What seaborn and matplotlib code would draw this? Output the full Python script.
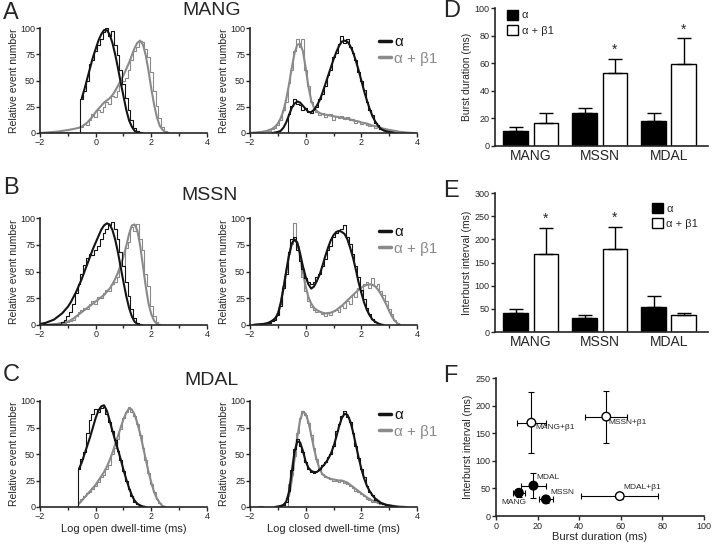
import numpy as np
import pandas as pd
import seaborn as sns
import matplotlib
matplotlib.use("Agg")
import matplotlib.pyplot as plt
from matplotlib.lines import Line2D
from matplotlib.ticker import MultipleLocator

# Setup
sns.set_style("ticks")
plt.rcParams['font.family'] = ['Liberation Sans', 'DejaVu Sans']

BLACK = '#141414'
GREY = '#8a8a8a'
STEP = 0.1  # log-unit bin width of the dwell-time histograms

# ---- dwell-time histograms: (start x, values every 0.1 log unit) ----
# A  MANG open
mang_open_a_fit = (-0.5, [33, 42, 52, 62, 72, 80, 88, 94, 98, 98, 94, 86, 75, 62, 48, 35, 22, 12, 6, 2, 0.5, 0])
mang_open_a_hist = (-0.6, [0, 32, 40, 50, 66, 70, 78, 84, 90, 96, 100, 92, 97, 84, 74, 60, 47, 33, 22, 12, 5, 2, 0.5, 0])
mang_open_b_fit = (-2.0, [0, 0.2, 0.4, 0.6, 0.8, 1, 1.3, 1.6, 2, 2.4, 2.8, 3.3, 3.8, 4.4, 5,
                          6, 8, 10, 13, 16, 20, 23, 26, 29, 31,
                          33, 36, 40, 45, 50, 55, 61, 67, 74, 81, 86, 88, 84, 74, 59, 42, 27, 15, 7, 3, 1, 0])
mang_open_b_hist = (-1.9, [0.5, 0.5, 0.5, 0.5, 0.5, 0.5, 0.5, 0.5, 0.5, 0.5, 0.5, 0.5, 0.5, 0, 6, 9, 8, 12, 18, 15,
                           22, 20, 25, 30, 28, 35, 34, 40, 46, 50, 52, 60, 70, 78, 82, 88, 87, 80, 72, 58,
                           40, 26, 14, 6, 2, 0.5, 0])
# A  MANG closed
mang_closed_a_fit = (-1.2, [0, 0.5, 1, 2, 5, 10, 17, 24, 28, 30, 29, 26, 23, 20, 20, 22, 26, 31, 38, 46, 54, 62,
                            70, 77, 83, 87, 88, 87, 83, 77, 69, 60, 50, 40, 31, 23, 16, 11, 7, 4, 2.5, 1.5, 1, 0.5, 0])
mang_closed_a_hist = (-0.7, [0, 18, 26, 32, 28, 27, 22, 24, 20, 19, 23, 25, 32, 37, 45, 55, 60, 72, 76, 85, 92, 86,
                             90, 82, 76, 70, 58, 50, 41, 30, 22, 17, 10, 8, 4, 3, 1.5, 1, 0.5, 0])
mang_closed_b_fit = (-2.0, [0, 0.3, 0.5, 0.8, 1, 1.5, 2, 3, 4, 6, 9, 14, 21, 32, 46, 62, 76, 84, 85, 78, 62, 44,
                            31, 24, 21, 19, 18, 17.5, 17, 16.5, 16, 15.5, 15, 14.5, 14, 13.5, 13, 12, 11.5, 11, 10,
                            9.5, 9, 8, 7, 6.5, 6, 5, 4, 3.5, 3, 2.5, 2, 1.5, 1, 0.8, 0.5, 0.3, 0.1, 0])
mang_closed_b_hist = (-1.8, [0.5, 1, 1, 1.5, 2, 2, 4, 5, 8, 12, 22, 30, 48, 60, 78, 90, 82, 90, 60, 45, 30, 25,
                             20, 17, 19, 15, 17, 18, 12, 16, 14, 16, 13, 15, 12, 13, 10, 11, 9, 10, 8, 7, 8, 5,
                             6, 4, 5, 3, 3, 2, 2.5, 1, 1.5, 0.5, 1, 0.3, 0])
# B  MSSN open
mssn_open_a_fit = (-2.0, [1, 1.5, 2, 3, 4, 5, 7, 9, 11, 14, 17, 21, 26, 31, 37, 43, 50, 57, 64, 71, 77, 83,
                          89, 93, 95, 94, 89, 80, 68, 54, 40, 27, 16, 8, 3, 1, 0])
mssn_open_a_hist = (-1.9, [0.5, 0.5, 0.5, 1, 1, 1, 1, 3, 5, 8, 12, 20, 30, 38, 48, 56, 63, 66, 65, 70, 74, 80,
                           86, 90, 93, 96, 90, 80, 68, 55, 40, 27, 15, 7, 2, 0.5, 0])
mssn_open_b_fit = (-1.8, [0, 0.3, 0.5, 0.8, 1, 1.5, 2, 2.5, 3, 4.5, 6, 8, 10, 12, 14, 16, 18, 20, 22, 24, 26,
                          28, 31, 34, 38, 43, 49, 56, 64, 74, 85, 93, 94, 88, 74, 55, 36, 20, 10, 4, 1, 0])
mssn_open_b_hist = (-1.8, [0, 0.3, 0.5, 1, 1, 1.5, 2, 2, 3, 4, 5, 8, 12, 14, 16, 15, 20, 22, 20, 26, 25, 30,
                           33, 32, 38, 40, 45, 58, 55, 72, 78, 92, 88, 94, 80, 70, 48, 36, 18, 8, 3, 1, 0])
# B  MSSN closed
mssn_closed_a_fit = (-1.9, [0, 0.3, 0.5, 0.8, 1, 1.5, 2.5, 4, 6, 10, 20, 34, 50, 65, 76, 80, 77, 67, 55, 45,
                            38, 34, 36, 41, 47, 55, 64, 72, 79, 84, 87, 88, 87, 85, 80, 72, 63, 52, 40, 30, 21,
                            14, 9, 5, 3, 1.5, 0.5, 0])
mssn_closed_a_hist = (-1.8, [0.5, 0.5, 1, 1, 2, 2, 4, 5, 9, 18, 35, 48, 68, 80, 82, 70, 60, 52, 44, 40, 38, 40,
                             45, 48, 55, 62, 70, 74, 82, 86, 88, 90, 93, 82, 76, 66, 55, 45, 33, 24, 16, 10, 6,
                             3, 1.5, 0.5, 0])
mssn_closed_b_fit = (-1.9, [0, 0.3, 0.5, 0.8, 1, 1.5, 2.5, 4, 6, 10, 20, 34, 50, 65, 76, 80, 76, 64, 49, 36, 26,
                            20, 16, 14, 12.5, 11.5, 11, 11, 11.5, 12.5, 14, 16, 18, 20.5, 23, 25.5, 28, 30.5, 33,
                            35, 36.5, 37.5, 38, 37.5, 36, 33, 29, 24, 19, 13, 8, 4, 1.5, 0])
mssn_closed_b_hist = (-1.8, [0.5, 1, 1, 2, 2, 3, 4, 6, 11, 20, 36, 50, 66, 76, 95, 74, 60, 45, 32, 22, 17, 14,
                             12, 13, 10, 8, 12, 9, 13, 14, 12, 18, 16, 22, 20, 28, 26, 35, 32, 38, 40, 35, 44,
                             36, 38, 32, 28, 22, 15, 10, 5, 2, 0])
# C  MDAL open
mdal_open_a_fit = (-0.6, [36, 42, 50, 58, 66, 75, 84, 91, 95, 96, 91, 82, 72, 63, 54, 45, 35, 26, 18, 11, 6, 3,
                          1.5, 0.5, 0])
mdal_open_a_hist = (-0.7, [0, 36, 45, 52, 70, 82, 88, 92, 90, 93, 94, 88, 80, 72, 63, 53, 44, 34, 25, 17, 10, 5,
                           3, 1, 0.5, 0])
mdal_open_b_fit = (-0.6, [3, 6, 9, 12, 15, 18, 21, 25, 29, 33, 38, 44, 51, 59, 67, 75, 83, 89, 93, 92, 87, 79,
                          69, 57, 45, 33, 23, 14, 8, 4, 1, 0])
mdal_open_b_hist = (-0.6, [5, 8, 10, 13, 14, 17, 20, 24, 28, 30, 36, 40, 50, 56, 64, 74, 84, 90, 94, 90, 86, 78,
                           68, 56, 44, 32, 22, 14, 8, 4, 1, 0])
# C  MDAL closed
mdal_closed_a_fit = (-1.1, [0, 0.5, 1, 2, 5, 14, 33, 52, 62, 61, 53, 43, 37, 34, 33, 33, 35, 38, 41, 45, 50, 57,
                            66, 76, 84, 88, 87, 81, 71, 59, 47, 36, 27, 20, 15, 11, 8, 6, 4, 3, 2, 1.5, 1, 0.5, 0])
mdal_closed_a_hist = (-1.0, [0.5, 1, 2, 5, 15, 35, 55, 64, 58, 52, 42, 36, 33, 32, 34, 36, 40, 42, 47, 50, 58,
                             72, 78, 86, 91, 85, 80, 70, 58, 46, 36, 28, 20, 14, 11, 7, 6, 4, 3, 2, 1.5, 1, 0.5, 0])
mdal_closed_b_fit = (-0.6, [10, 25, 45, 66, 82, 90, 88, 80, 68, 55, 44, 36, 31, 29, 27.5, 26.5, 26, 25.5, 25, 25,
                            24, 23, 21, 19, 17, 15, 13, 11, 9, 7.5, 6, 5, 4, 3.2, 2.6, 2, 1.6, 1.2, 1, 0.8, 0.5,
                            0.3, 0])
mdal_closed_b_hist = (-1.7, [0.5, 0.5, 0.3, 0.3, 0.3, 0.3, 0.3, 0.3, 0.3, 0.3, 0, 22, 30, 48, 70, 84, 91, 87, 79,
                             68, 56, 45, 36, 31, 28, 28, 26, 25, 25, 24, 25, 23, 22, 20, 18, 15, 14, 12, 10, 8,
                             7, 5, 5, 4, 3, 3, 2, 2, 1, 1, 0.5, 0])

# ---- burst analysis (mean, SEM) ----
channels = ['MANG', 'MSSN', 'MDAL']
burst_alpha = [11, 24, 18]
burst_alpha_err = [3, 3.5, 6]
burst_beta = [17, 53, 59.5]
burst_beta_err = [7, 10, 18.5]
burst_star = [False, True, True]
ibi_alpha = [42, 30, 55]
ibi_alpha_err = [7, 6, 22]
ibi_beta = [169, 180, 36]
ibi_beta_err = [55, 47, 6]
ibi_star = [True, True, False]


def trace(ax, series, color, lw, steps=False):
    x0, vals = series
    xs = np.round(x0 + STEP * np.arange(len(vals)), 2)
    kw = dict(drawstyle='steps-mid') if steps else {}
    sns.lineplot(x=xs, y=vals, ax=ax, color=color, lw=lw, errorbar=None, **kw)


def style_hist_axis(ax, xlabel=None):
    ax.set_xlim(-2, 4)
    ax.set_ylim(0, 100)
    ax.set_xticks([-2, 0, 2, 4])
    ax.xaxis.set_minor_locator(MultipleLocator(1))
    ax.set_yticks([0, 25, 50, 75, 100])
    ax.set_ylabel('Relative event number', fontsize=7.5, labelpad=1)
    ax.set_xlabel(xlabel if xlabel else '', fontsize=8, labelpad=2)
    sns.despine(ax=ax)
    ax.tick_params(labelsize=6.5, length=3, width=1, pad=0.5)
    ax.tick_params(which='minor', length=2, width=1)
    for s in ['left', 'bottom']:
        ax.spines[s].set_linewidth(1.2)


def style_bar_axis(ax):
    sns.despine(ax=ax)
    ax.tick_params(labelsize=6.5, length=3, width=1, pad=1)
    ax.tick_params(axis='x', length=0, labelsize=10, pad=2)
    for s in ['left', 'bottom']:
        ax.spines[s].set_linewidth(1.2)


fig = plt.figure(figsize=(7.13, 5.44), dpi=100)

W, H = 713, 544
def box(x0, y0, x1, y1):
    return [x0 / W, 1 - y1 / H, (x1 - x0) / W, (y1 - y0) / H]

rows = [
    (28, 133, mang_open_a_fit, mang_open_a_hist, mang_open_b_fit, mang_open_b_hist,
     mang_closed_a_fit, mang_closed_a_hist, mang_closed_b_fit, mang_closed_b_hist),
    (218, 325, mssn_open_a_fit, mssn_open_a_hist, mssn_open_b_fit, mssn_open_b_hist,
     mssn_closed_a_fit, mssn_closed_a_hist, mssn_closed_b_fit, mssn_closed_b_hist),
    (401, 507, mdal_open_a_fit, mdal_open_a_hist, mdal_open_b_fit, mdal_open_b_hist,
     mdal_closed_a_fit, mdal_closed_a_hist, mdal_closed_b_fit, mdal_closed_b_hist),
]

for i, (top, bottom, oaf, oah, obf, obh, caf, cah, cbf, cbh) in enumerate(rows):
    last = i == 2
    ax_o = fig.add_axes(box(40, top, 207, bottom))
    trace(ax_o, obh, GREY, 0.8, steps=True)
    trace(ax_o, obf, GREY, 1.5)
    trace(ax_o, oah, BLACK, 0.8, steps=True)
    trace(ax_o, oaf, BLACK, 1.5)
    style_hist_axis(ax_o, 'Log open dwell-time (ms)' if last else None)

    ax_c = fig.add_axes(box(250, top, 417, bottom))
    trace(ax_c, cbh, GREY, 0.8, steps=True)
    trace(ax_c, cbf, GREY, 1.5)
    trace(ax_c, cah, BLACK, 0.8, steps=True)
    trace(ax_c, caf, BLACK, 1.5)
    style_hist_axis(ax_c, 'Log closed dwell-time (ms)' if last else None)
    handles = [Line2D([], [], color=BLACK, lw=2.5), Line2D([], [], color=GREY, lw=2.5)]
    leg = ax_c.legend(handles, ['α', 'α + β1'], loc='upper left', bbox_to_anchor=(0.69, 1.06),
                      frameon=False, fontsize=11, handlelength=0.8, handletextpad=0.2,
                      labelspacing=0.15, labelcolor='linecolor')

# titles and panel letters
fig.text(0.004, 0.977, 'A', fontsize=17, va='center')
fig.text(0.004, 0.655, 'B', fontsize=17, va='center')
fig.text(0.004, 0.310, 'C', fontsize=17, va='center')
fig.text(0.621, 0.980, 'D', fontsize=17, va='center')
fig.text(0.621, 0.649, 'E', fontsize=17, va='center')
fig.text(0.621, 0.309, 'F', fontsize=17, va='center')
fig.text(212 / W, 0.981, 'MANG', fontsize=14, ha='center', va='center')
fig.text(210 / W, 0.641, 'MSSN', fontsize=14, ha='center', va='center')
fig.text(211 / W, 0.300, 'MDAL', fontsize=14, ha='center', va='center')


def bar_panel(ax, alpha_vals, alpha_err, beta_vals, beta_err, stars, legend_loc):
    df = pd.DataFrame({'channel': channels * 2,
                       'group': ['α'] * 3 + ['α + β1'] * 3,
                       'value': alpha_vals + beta_vals})
    sns.barplot(data=df, x='channel', y='value', hue='group', palette=['black', 'white'],
                edgecolor='black', linewidth=1, width=0.88, gap=0.18, errorbar=None, ax=ax)
    errs = [alpha_err, beta_err]
    bar_groups = list(ax.containers)
    for k, cont in enumerate(bar_groups):
        for j, bar in enumerate(cont):
            x = bar.get_x() + bar.get_width() / 2
            h = bar.get_height()
            ax.errorbar(x, h, yerr=[[0], [errs[k][j]]], color='black', elinewidth=1,
                        capsize=5, capthick=1, zorder=1)
            if k == 1 and stars[j]:
                ax.text(x, h + errs[k][j] + ax.get_ylim()[1] * 0.015, '*', ha='center',
                        va='bottom', fontsize=10)
    ax.set_xlim(-0.52, 2.57)
    ax.set_xlabel('')
    h, l = ax.get_legend_handles_labels()
    ax.legend(h, l, frameon=False, fontsize=8, handlelength=1.0, handleheight=1.0,
              handletextpad=0.3, labelspacing=0.4, **legend_loc)


ax_d = fig.add_axes(box(495, 8, 708, 146))
ax_d.set_ylim(0, 100)
bar_panel(ax_d, burst_alpha, burst_alpha_err, burst_beta, burst_beta_err, burst_star,
          dict(loc='upper left', bbox_to_anchor=(0.01, 1.06)))
ax_d.set_ylim(0, 100)
ax_d.set_yticks(range(0, 101, 20))
ax_d.set_ylabel('Burst duration (ms)', fontsize=7.5, labelpad=2)
style_bar_axis(ax_d)

ax_e = fig.add_axes(box(495, 193, 708, 332))
ax_e.set_ylim(0, 300)
bar_panel(ax_e, ibi_alpha, ibi_alpha_err, ibi_beta, ibi_beta_err, ibi_star,
          dict(loc='upper right', bbox_to_anchor=(1.0, 1.0)))
ax_e.set_ylim(0, 300)
ax_e.set_yticks(range(0, 301, 50))
ax_e.set_ylabel('Interburst interval (ms)', fontsize=7.5, labelpad=2)
style_bar_axis(ax_e)

# F: interburst interval vs burst duration
ax_f = fig.add_axes(box(496, 378, 704, 516))
f_x = burst_alpha + burst_beta
f_xerr = burst_alpha_err + burst_beta_err
f_y = ibi_alpha + ibi_beta
f_yerr = ibi_alpha_err + ibi_beta_err
f_group = ['α'] * 3 + ['α + β1'] * 3
f_names = ['MANG', 'MSSN', 'MDAL', 'MANG+β1', 'MSSN+β1', 'MDAL+β1']
f_label_pos = [(2.7, 25), (26, 43), (19.5, 69), (19, 160), (54, 169), (61, 51)]
ax_f.errorbar(f_x, f_y, xerr=f_xerr, yerr=f_yerr, fmt='none', ecolor='black',
              elinewidth=0.8, capsize=2, capthick=0.8, zorder=1)
sns.scatterplot(x=f_x, y=f_y, hue=f_group, palette=['black', 'white'], edgecolor='black',
                linewidth=1, s=38, legend=False, ax=ax_f, zorder=3)
for name, (tx, ty) in zip(f_names, f_label_pos):
    ax_f.text(tx, ty, name, fontsize=6, ha='left', va='center')
ax_f.set_xlim(0, 100)
ax_f.set_ylim(0, 250)
ax_f.set_xticks(range(0, 101, 20))
ax_f.set_yticks(range(0, 251, 50))
ax_f.set_xlabel('Burst duration (ms)', fontsize=8, labelpad=1)
ax_f.set_ylabel('Interburst interval (ms)', fontsize=7.5, labelpad=2)
sns.despine(ax=ax_f)
ax_f.tick_params(labelsize=6.5, length=3, width=1, pad=1)
for s in ['left', 'bottom']:
    ax_f.spines[s].set_linewidth(1.2)

fig.savefig('out.png', dpi=100)
